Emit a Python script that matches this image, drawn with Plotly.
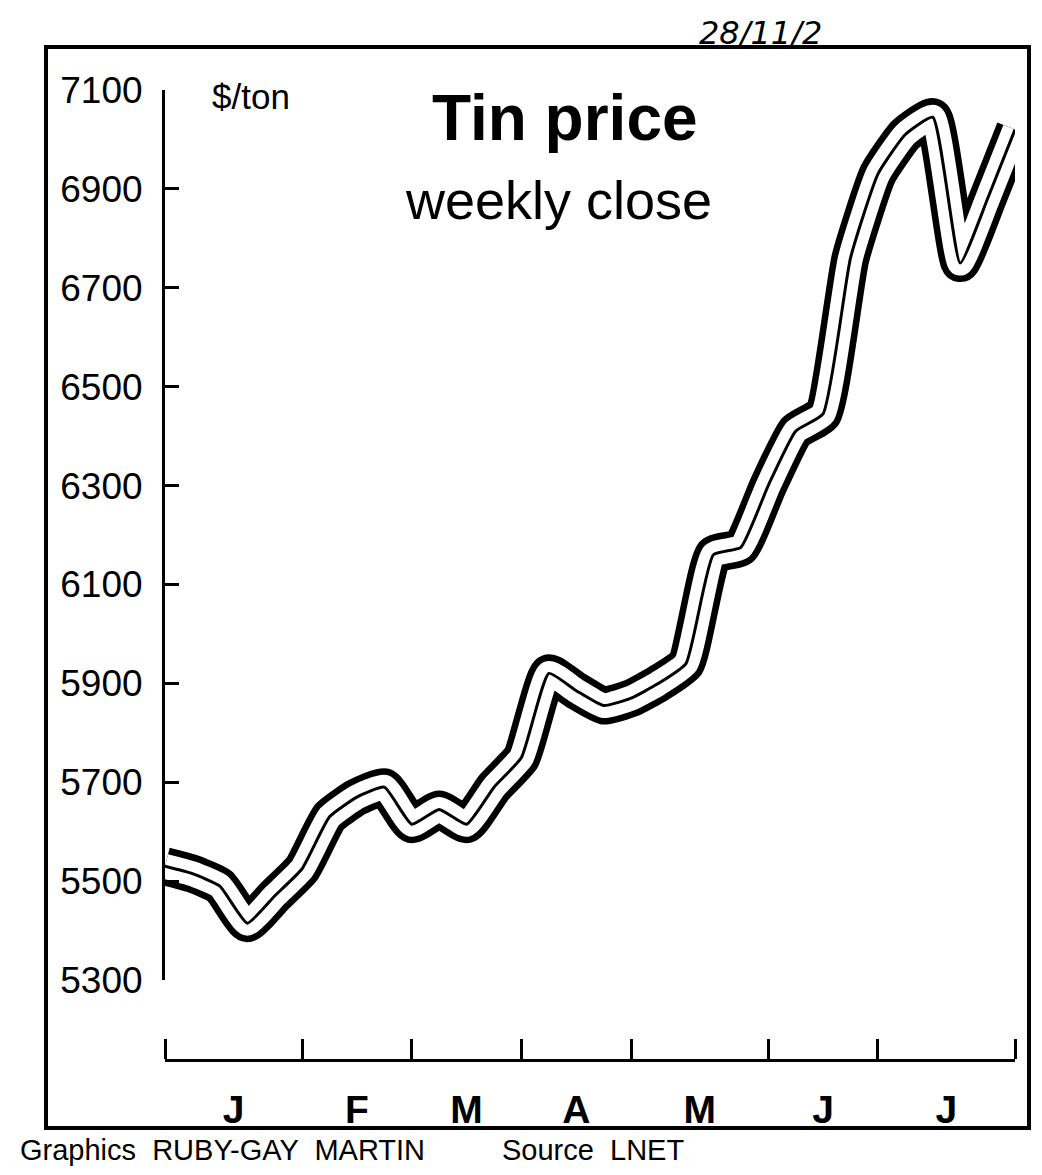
import plotly.graph_objects as go

# ---- data (read from the clipping) ----
weeks = list(range(32))
price = [5530, 5515, 5490, 5415, 5470, 5525, 5630, 5670, 5690, 5615,
         5645, 5615, 5690, 5750, 5920, 5885, 5855, 5870, 5900, 5940,
         6160, 6175, 6300, 6410, 6445, 6760, 6930, 7010, 7045, 6750,
         6880, 7020]
month_labels = ["J", "F", "M", "A", "M", "J", "J"]
month_bounds = [0, 5, 9, 13, 17, 22, 26, 31]
month_mids = [(a + b) / 2 for a, b in zip(month_bounds[:-1], month_bounds[1:])]
y_ticks = [5300, 5500, 5700, 5900, 6100, 6300, 6500, 6700, 6900, 7100]
y_labels = [str(v) for v in y_ticks]

# page has an 8px body margin: design in viewport pixels, figure sits at (8, 8)
OFF = 8
VW, VH = 1042, 1175
W, H = VW - 2 * OFF, VH - 2 * OFF
L, R, T, B = 165, 1015, 90, 1060   # plot area, viewport pixels

def px(x):
    return (x - L) / (R - L)

def py(y):
    return (B - y) / (B - T)

FONT = "Liberation Sans, Arial, Helvetica, sans-serif"

fig = go.Figure()
# hollow "ribbon" line: thick black, white core, thin black centre
for w, c in [(38, "black"), (25, "white"), (3, "black")]:
    fig.add_trace(go.Scatter(x=weeks, y=price, mode="lines",
                             line=dict(color=c, width=w, shape="spline", smoothing=0.45),
                             hoverinfo="skip", showlegend=False))

fig.update_layout(
    width=W, height=H,
    margin=dict(l=L - OFF, r=OFF + W - R, t=T - OFF, b=OFF + H - B),
    paper_bgcolor="white", plot_bgcolor="white",
    font=dict(family=FONT, color="black"),
    xaxis=dict(range=[0, 31], showgrid=False, zeroline=False,
               showline=True, linecolor="black", linewidth=3,
               anchor="free", position=0,
               tickmode="array", tickvals=month_mids, ticktext=month_labels,
               ticks="", tickfont=dict(size=39, weight="bold"),
               ticklabelstandoff=14,
               minor=dict(tickmode="array", tickvals=month_bounds, ticks="inside",
                          ticklen=20, tickwidth=3, tickcolor="black", showgrid=False)),
    yaxis=dict(range=[5300, 7100], domain=[py(980), 1], showgrid=False,
               zeroline=False, showline=True, linecolor="black", linewidth=3,
               tickmode="array", tickvals=y_ticks, ticktext=y_labels,
               ticks="inside", ticklen=14, tickwidth=3, tickcolor="black",
               tickfont=dict(size=37), ticklabelstandoff=12),
)

# frame round the clipping
fig.add_shape(type="rect", xref="paper", yref="paper",
              x0=px(46), x1=px(1029), y0=py(1128), y1=py(47),
              line=dict(color="black", width=4), fillcolor="rgba(0,0,0,0)", layer="below")

ann = [
    dict(text="$/ton", x=px(210), y=py(97), xanchor="left", yanchor="middle",
         font=dict(size=35)),
    dict(text="<b>Tin price</b>", x=px(565), y=py(118), xanchor="center", yanchor="middle",
         font=dict(size=64)),
    dict(text="weekly close", x=px(558), y=py(200), xanchor="center", yanchor="middle",
         font=dict(size=54)),
    dict(text="Graphics  RUBY-GAY  MARTIN", x=px(18), y=py(1150),
         xanchor="left", yanchor="middle", font=dict(size=29)),
    dict(text="Source  LNET", x=px(500), y=py(1150),
         xanchor="left", yanchor="middle", font=dict(size=29)),
    # handwritten note at the top of the clipping
    dict(text="<i>28/11/2</i>", x=px(760), y=py(33), xanchor="center", yanchor="middle",
         font=dict(size=32, family="DejaVu Sans")),
]
for a in ann:
    fig.add_annotation(xref="paper", yref="paper", showarrow=False, **a)

fig.write_html("out.html")
